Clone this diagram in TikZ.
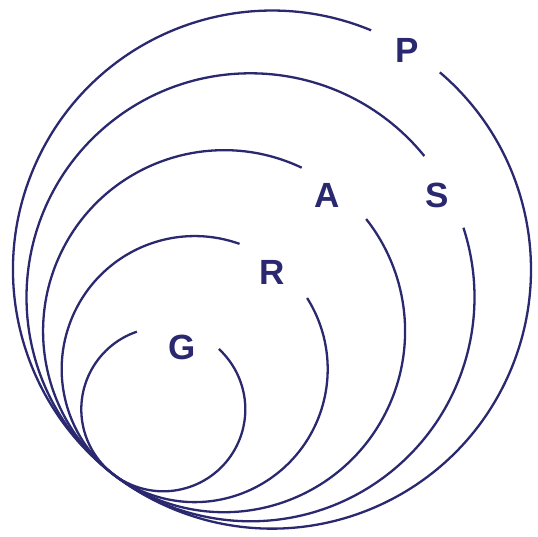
\documentclass[tikz,border=0pt]{standalone}
\usepackage{fontspec}
\setmainfont{Liberation Sans}
\usetikzlibrary{positioning}
\definecolor{ringblue}{RGB}{42,40,110}

\begin{document}
\begin{tikzpicture}[
        x = 1pt, y = 1pt,
        ring/.style = {draw = ringblue, line width = 2.3pt},
        letter/.style = {text = ringblue, inner sep = 0pt,
                         font = \fontsize{35}{35}\selectfont\bfseries}
    ]

      \useasboundingbox (0,0) rectangle (538,537);

      % centres of the rings, all touching at the lower left
      \coordinate (cG) at (163.3,127.7);
      \coordinate (cR) at (194.7,167.9);
      \coordinate (cA) at (224.1,205.8);
      \coordinate (cS) at (250.5,239.7);
      \coordinate (cP) at (272.0,267.4);

      \draw[ring] (cG) ++(108.8:82)  arc[start angle = 108.8, end angle = 407.3, radius = 82];
      \draw[ring] (cR) ++(70.3:133)  arc[start angle = 70.3,  end angle = 392.3, radius = 133];
      \draw[ring] (cA) ++(64.6:181)  arc[start angle = 64.6,  end angle = 398.3, radius = 181];
      \draw[ring] (cS) ++(39.1:224)  arc[start angle = 39.1,  end angle = 378.1, radius = 224];
      \draw[ring] (cP) ++(67.5:259)  arc[start angle = 67.5,  end angle = 409.6, radius = 259];

      \node[letter] (g) at (182,190) {G};
      \node[letter] (r) at (272,265) {R};
      \node[letter] (a) at (327,342) {A};
      \node[letter] (s) at (437,342) {S};
      \node[letter] (p) at (407,487) {P};

    \end{tikzpicture}
\end{document}
